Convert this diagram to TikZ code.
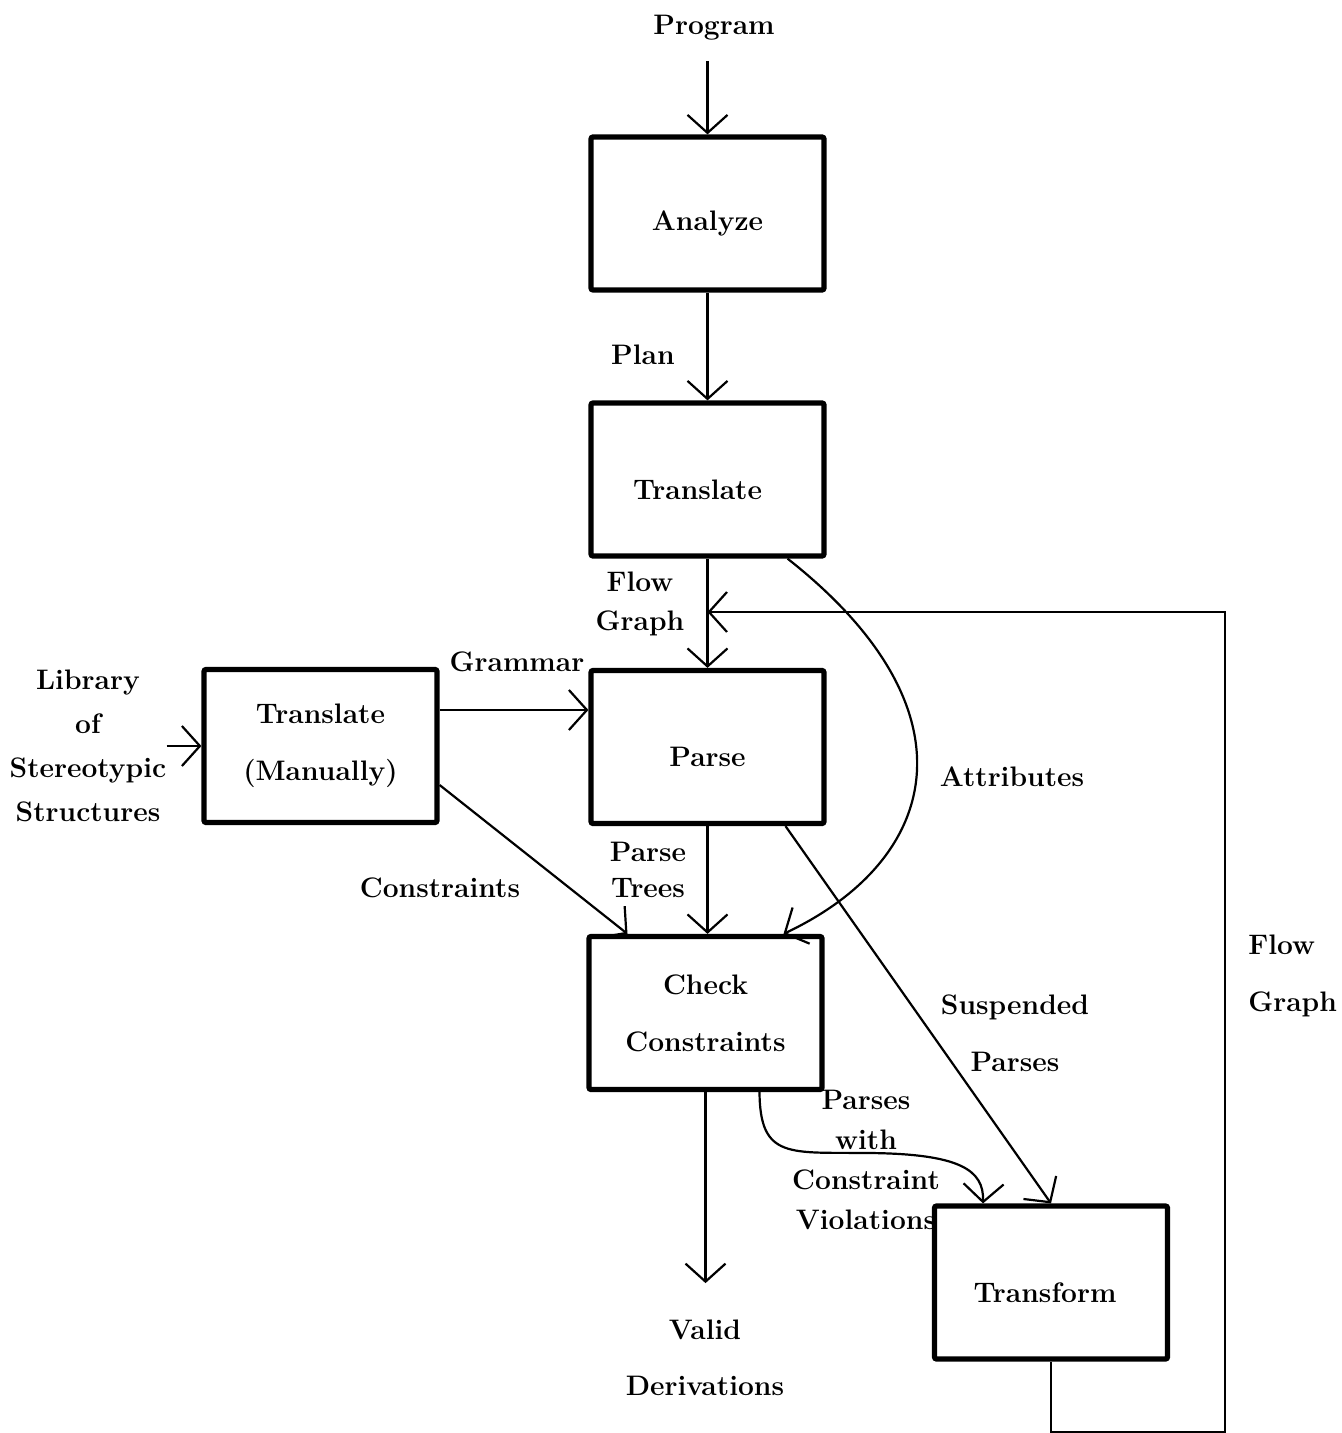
\documentclass[tikz,border=0pt]{standalone}
\usetikzlibrary{arrows.meta}
% single-line box captions sit a little below the box centre
\newcommand\lowtxt[1]{\raisebox{-5pt}[\height][\depth]{#1}}
\begin{document}
\begin{tikzpicture}[x=0.5pt,y=-0.5pt,
  every node/.style={font=\fontsize{14.1}{19}\selectfont\bfseries},
  box/.style={draw, line width=2.6pt, rounded corners=1pt, minimum width=116.5pt,
    minimum height=76.5pt, align=center, inner sep=0pt,
    font=\fontsize{14.1}{28.5}\selectfont\bfseries},
  lbl/.style={inner sep=0pt, align=center},
  conn/.style={line width=1.1pt},
  arr/.style={conn, -{Straight Barb[length=9pt,width=20pt,line width=1.1pt]}}]
\useasboundingbox (0,0) rectangle (1341,1433);

% process boxes
\node[box] (analyze)   at (707.5,213.5) {\lowtxt{Analyze}};
\node[box] (translate) at (707.5,479.5) {\hspace*{-10pt}\lowtxt{Translate}};
\node[box] (parse)     at (707.5,747)   {\lowtxt{Parse}};
\node[box] (manual)    at (320.5,746)   {Translate\\(Manually)};
\node[box] (check)     at (705.5,1013)  {Check\\Constraints};
\node[box] (transform) at (1051,1282.5) {\hspace*{-6pt}\lowtxt{Transform}};

% inputs and outputs
\node[lbl] (program) at (714,28) {Program};
\node[lbl, font=\fontsize{14.1}{22}\selectfont\bfseries] (library) at (88,746)
  {Library\\of\\Stereotypic\\Structures};
\node[lbl, font=\fontsize{14.1}{28}\selectfont\bfseries] (valid) at (705,1358)
  {Valid\\Derivations};

% edge labels
\node[lbl] (lplan) at (643,355) {Plan};
\node[lbl, font=\fontsize{14.1}{19.5}\selectfont\bfseries] (lflow) at (640,604) {Flow\\Graph};
\node[lbl] (lgrammar) at (517,662) {Grammar};
\node[lbl] (lconstr) at (440,888) {Constraints};
\node[lbl, font=\fontsize{14.1}{18}\selectfont\bfseries] (ltrees) at (648,870) {Parse\\Trees};
\node[lbl] (lattr) at (1012,777) {Attributes};
\node[lbl, font=\fontsize{14.1}{28.5}\selectfont\bfseries] (lsusp) at (1015,1033) {Suspended\\Parses};
\node[lbl, font=\fontsize{14.1}{20}\selectfont\bfseries] (lviol) at (866,1160)
  {Parses\\with\\Constraint\\Violations};
\node[lbl, align=left, anchor=west, font=\fontsize{14.1}{28.5}\selectfont\bfseries] (lflow2) at (1248,976)
  {Flow\\Graph};

% main pipeline
\draw[arr, shorten <=10pt] (program.south -| analyze.north) -- (analyze.north);
\draw[arr] (analyze.south) -- (translate.north);
\draw[arr] (translate.south) -- (parse.north);
\draw[arr] (parse.south) -- (parse.south |- check.north);
\draw[arr] (check.south) -- ++(0,191);

% grammar and constraints from the library
\draw[arr] (library.east |- manual.west) -- (manual.west);
\draw[arr] ([yshift=18pt]manual.east) -- ([yshift=18pt]manual.east -| parse.west);
\draw[arr] ([yshift=-19.5pt]manual.east) -- ([xshift=-39pt]check.north);

% attributes
\draw[arr] ([xshift=40pt]translate.south) .. controls (980,710) and (940,860) .. ([xshift=39pt]check.north);

% suspended parses and violations
\draw[arr] ([xshift=39pt]parse.south) -- (transform.north);
\draw[arr] ([xshift=27pt]check.south) .. controls (760,1160) and (790,1152) .. (870,1153)
  .. controls (960,1154) and (984,1170) .. ([xshift=-34pt]transform.north);

% feedback loop
\coordinate (fbcorner) at (1225,612);
\draw[arr] (transform.south) -- ++(0,70) -| (fbcorner) -- (fbcorner -| parse.north);
\end{tikzpicture}
\end{document}
